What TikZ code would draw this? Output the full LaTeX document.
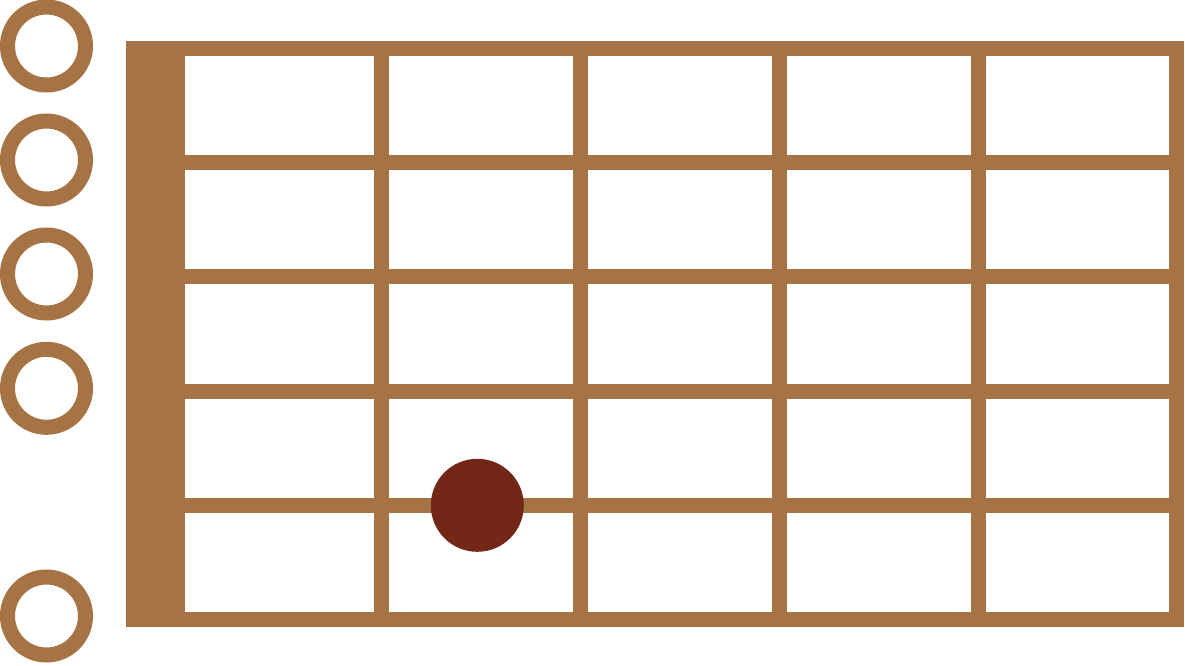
\documentclass[tikz,border=0pt]{standalone}
\definecolor{wood}{HTML}{A57344}
\definecolor{dotc}{HTML}{722717}
\tikzset{
  fretline/.style={draw=wood, line width=15pt},
  openstr/.style={circle, draw=wood, line width=15pt, minimum size=78pt, inner sep=0pt},
  fingerdot/.style={circle, fill=dotc, minimum size=93pt, inner sep=0pt}
}
\begin{document}
\begin{tikzpicture}[x=1pt,y=-1pt]
\useasboundingbox (0,0) rectangle (1185,666);
% strings (horizontal) and frets (vertical)
\foreach \y in {162.4,276.7,391,505.3} \draw[fretline] (185,\y) -- (1177,\y);
\foreach \x in {381.8,580.3,779,978} \draw[fretline] (\x,48.2) -- (\x,619.2);
\draw[fretline] (133.5,48.2) rectangle (1176.8,619.2);
\fill[wood] (126,40.7) rectangle (185.3,626.7);
% open string markers
\foreach \y/\n in {46/o1,160/o2,274/o3,388.3/o4,616/o6} \node[openstr] (\n) at (46.5,\y) {};
% finger dot
\node[fingerdot] (dot) at (477.3,505.3) {};
\end{tikzpicture}
\end{document}
